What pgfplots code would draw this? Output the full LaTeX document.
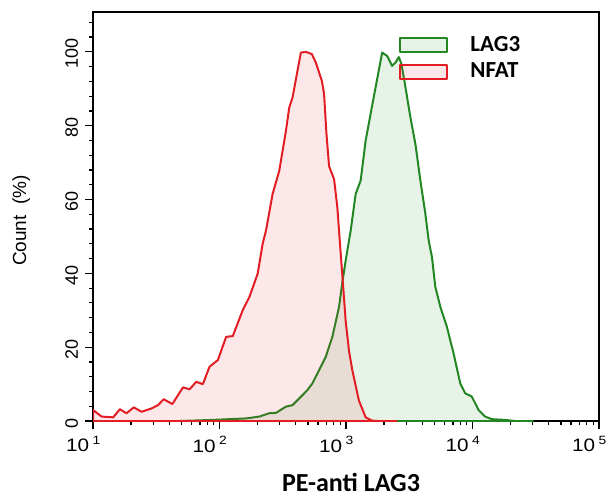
\documentclass[border=0pt]{standalone}
\usepackage{fontspec}
\setmainfont{Liberation Sans}
\newfontfamily\calib{Carlito}
\usepackage{pgfplots}
\pgfplotsset{compat=1.18}

\definecolor{lagline}{RGB}{34,135,34}
\definecolor{nfatline}{RGB}{226,30,36}

\begin{document}
\begin{tikzpicture}
\begin{axis}[
    name=ax,
    scale only axis,
    width=253pt, height=204.5pt,
    xmode=log,
    xmin=10, xmax=100000,
    ymin=0, ymax=110.8,
    axis line style={line width=0.8pt},
    tick align=outside,
    xtick pos=bottom, ytick pos=left,
    major tick length=4pt, minor tick length=2pt,
    every tick/.style={black, line width=0.6pt},
    xtick={10,100,1000,10000,100000},
    xticklabels={10\,\textsuperscript{1},10\,\textsuperscript{2},10\,\textsuperscript{3},10\,\textsuperscript{4},10\,\textsuperscript{5}},
    xticklabel style={font=\fontsize{9}{10}\selectfont, xscale=1.15, xshift=-4pt},
    ytick={0,20,40,60,80,100},
    minor ytick={4,8,12,16,24,28,32,36,44,48,52,56,64,68,72,76,84,88,92,96,104,108},
    yticklabel style={font=\fontsize{9}{10}\selectfont, rotate=90, anchor=south, xshift=-1pt},
    /pgf/number format/assume math mode=true,
    ylabel={Count\ \ (\%)},
    ylabel style={font=\fontsize{9.5}{11}\selectfont, at={(axis description cs:-0.142,0.49)}, anchor=center},
    xlabel={\calib\bfseries PE-anti LAG3},
    xlabel style={font=\fontsize{13}{15}\selectfont, at={(axis description cs:0.51,-0.15)}, anchor=center},
    legend style={at={(axis description cs:0.593,0.957)}, anchor=north west, draw=none, fill=none,
        font=\calib\bfseries\fontsize{11.5}{13}\selectfont, row sep=2.5pt,
        nodes={inner sep=1pt}},
    legend image code/.code={\draw[#1] (0pt,-3.5pt) rectangle (23.5pt,3.5pt);},
    legend cell align=left,
]
% LAG3 (green)
\addplot[draw=lagline, line width=1pt, line join=round, fill=lagline, fill opacity=0.1, draw opacity=1]
coordinates {(40,0) (48.4,0) (88.5,0.3) (162.3,0.7) (206.5,1.2) (247.6,2.1) (279.6,2.2) (335.1,3.9) (377.8,4.3) (452.9,7.0) (495.8,8.4) (542.7,10.2) (613,13.8) (692,17.4) (780,22.8) (881,30.9) (935,37.5) (994.5,43.5) (1089,51.6) (1192,61.5) (1305,65.1) (1429,75.9) (1565,83.2) (1714,90.4) (1931,99.8) (2115,98.9) (2315,96.2) (2462,97.1) (2614,98.6) (2746,96.7) (2952,90.4) (3232,82.2) (3538,75.0) (3874,65.1) (4242,56.1) (4504,48.9) (4780,44.4) (5085,36.3) (5568,30.9) (6277,25.5) (7087,18.3) (8000,10.2) (8760,7.5) (9874,6.6) (11150,3.0) (12590,1.2) (14190,0.5) (18090,0.3) (21690,0) (30000,0)}
\closedcycle;
\addlegendentry{\hspace{10pt}LAG3}
% NFAT (red)
\addplot[draw=nfatline, line width=1pt, line join=round, fill=nfatline, fill opacity=0.1, draw opacity=1]
coordinates {(10,3.0) (11.7,1.2) (14.45,1.0) (16.3,3.2) (18.4,2.1) (21.0,3.7) (24.2,2.5) (29.0,3.4) (32.7,4.3) (36.2,5.9) (42.4,4.6) (51.4,9.1) (58,8.6) (65.5,10.6) (73.9,10.0) (83.4,14.7) (97,16.5) (112.9,22.8) (127.3,23.0) (152.6,30) (172.3,33.6) (200.3,39.9) (219.3,48) (233.2,51.6) (262.9,61.5) (296.8,67.8) (335.1,78.6) (355.8,84.9) (377.8,87.6) (413.6,94.9) (439.8,99.8) (481.6,100) (537,99.4) (577.4,97.1) (643.8,92.2) (671,88.6) (700,78) (735,69) (805,65.5) (854.1,57.9) (892.2,48.9) (935.3,39.5) (994.5,27) (1056,19) (1121,13.8) (1266,5.5) (1429,1.0) (1611,0.1) (1820,0) (2500,0)}
\closedcycle;
\addlegendentry{\hspace{10pt}NFAT}
\end{axis}
\pgfresetboundingbox
\path ([xshift=-46.5pt,yshift=-38.5pt]ax.south west) rectangle ([xshift=7pt,yshift=6pt]ax.north east);
\end{tikzpicture}
\end{document}
